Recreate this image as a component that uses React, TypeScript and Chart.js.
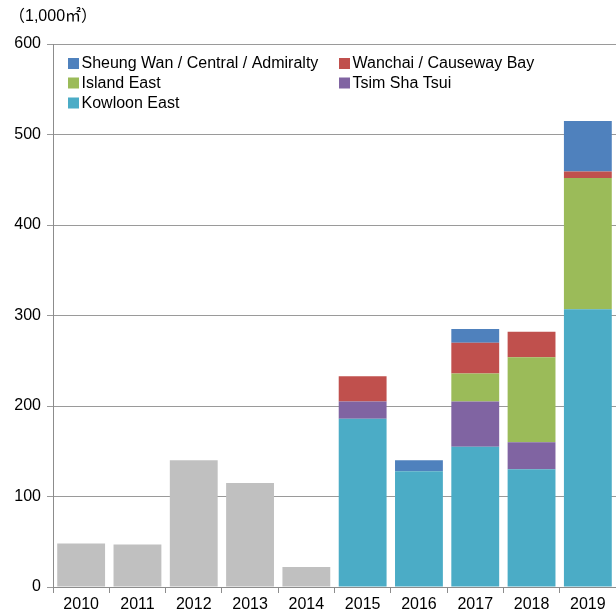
import React, { useEffect, useRef } from "react";
import { Chart, registerables } from "chart.js";

Chart.register(...registerables);

const years = ["2010", "2011", "2012", "2013", "2014", "2015", "2016", "2017", "2018", "2019"];
const totalsBefore2015 = [48, 47, 140, 115, 22, null, null, null, null, null];
const kowloonEast = [null, null, null, null, null, 186, 128, 155, 130, 307];
const tsimShaTsui = [null, null, null, null, null, 19, 0, 50, 30, 0];
const islandEast = [null, null, null, null, null, 0, 0, 31, 94, 145];
const wanchaiCauseway = [null, null, null, null, null, 28, 0, 34, 28, 7];
const sheungWanCentral = [null, null, null, null, null, 0, 12, 15, 0, 56];
const yTicks = [0, 100, 200, 300, 400, 500, 600];
const unitLabel = "（1,000㎡）";

const FONT = "'Liberation Sans', Arial, 'Noto Sans CJK JP', sans-serif";

const legendItems = [
  { label: "Sheung Wan / Central / Admiralty", color: "#4F81BD", col: 0, row: 0 },
  { label: "Wanchai / Causeway Bay", color: "#C0504D", col: 1, row: 0 },
  { label: "Island East", color: "#9BBB59", col: 0, row: 1 },
  { label: "Tsim Sha Tsui", color: "#8064A2", col: 1, row: 1 },
  { label: "Kowloon East", color: "#4BACC6", col: 0, row: 2 },
];

const overlayPlugin = {
  id: "overlay",
  afterDraw(chart: any) {
    const ctx = chart.ctx;
    ctx.save();
    ctx.font = `16px ${FONT}`;
    ctx.fillStyle = "#000";
    ctx.textBaseline = "middle";
    ctx.textAlign = "left";
    ctx.fillText(unitLabel, 9, 17);
    const colX = [68, 339];
    const rowY = [63.5, 83, 103];
    for (const it of legendItems) {
      const x = colX[it.col];
      const y = rowY[it.row];
      ctx.fillStyle = it.color;
      ctx.fillRect(x, y - 5.5, 11, 11);
      ctx.fillStyle = "#000";
      ctx.fillText(it.label, x + 13.5, y + 0.5);
    }
    ctx.restore();
  },
};

export default function App() {
  const ref = useRef<HTMLCanvasElement>(null);
  useEffect(() => {
    document.body.style.margin = "0";
    const mk = (label: string, data: (number | null)[], color: string) => ({
      label,
      data,
      backgroundColor: color,
      borderWidth: 0,
      stack: "s",
      barPercentage: 0.85,
      categoryPercentage: 1.0,
    });
    const chart = new Chart(ref.current!, {
      type: "bar",
      data: {
        labels: years,
        datasets: [
          mk("Total", totalsBefore2015, "#C0C0C0"),
          mk("Kowloon East", kowloonEast, "#4BACC6"),
          mk("Tsim Sha Tsui", tsimShaTsui, "#8064A2"),
          mk("Island East", islandEast, "#9BBB59"),
          mk("Wanchai / Causeway Bay", wanchaiCauseway, "#C0504D"),
          mk("Sheung Wan / Central / Admiralty", sheungWanCentral, "#4F81BD"),
        ],
      },
      options: {
        animation: false,
        responsive: false,
        maintainAspectRatio: false,
        layout: { padding: { top: 44, right: 0, left: 0, bottom: 0 } },
        plugins: { legend: { display: false }, tooltip: { enabled: false } },
        scales: {
          x: {
            stacked: true,
            grid: {
              offset: true,
              drawOnChartArea: false,
              drawTicks: true,
              tickLength: 6,
              color: "#8c8c8c",
            },
            border: { color: "#8c8c8c", width: 1 },
            ticks: { font: { size: 16, family: FONT }, color: "#000", padding: 2, maxRotation: 0 },
            afterFit(scale: any) {
              scale.height = 27;
            },
          },
          y: {
            stacked: true,
            min: 0,
            max: 600,
            afterBuildTicks(scale: any) {
              scale.ticks = yTicks.map((v) => ({ value: v }));
            },
            grid: { color: "#9a9a9a", tickLength: 6, lineWidth: 1 },
            border: { color: "#8c8c8c", width: 1 },
            ticks: { font: { size: 16, family: FONT }, color: "#000", padding: 6 },
            afterFit(scale: any) {
              scale.width = 53;
            },
          },
        },
      },
      plugins: [overlayPlugin],
    });
    return () => chart.destroy();
  }, []);
  return (
    <div style={{ width: 616, height: 614 }}>
      <canvas ref={ref} width={616} height={614} style={{ display: "block" }} />
    </div>
  );
}
